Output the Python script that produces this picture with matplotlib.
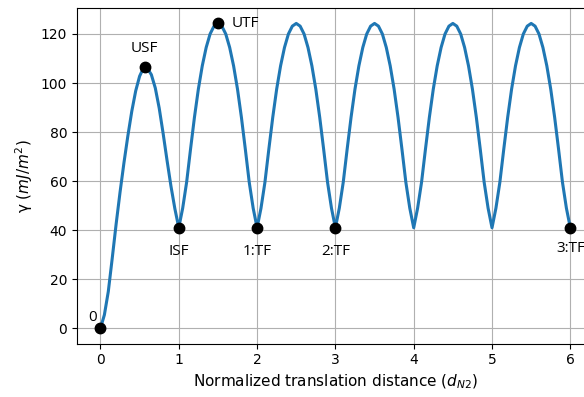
import matplotlib
matplotlib.use("Agg")
import matplotlib.pyplot as plt

# Generalized stacking/twin fault energy along the translation path
distance = [
    0.00, 0.05, 0.10, 0.15, 0.20, 0.25, 0.30, 0.35, 0.40, 0.45,
    0.50, 0.55, 0.60, 0.65, 0.70, 0.75, 0.80, 0.85, 0.90, 0.95,
    1.00, 1.05, 1.10, 1.15, 1.20, 1.25, 1.30, 1.35, 1.40, 1.45,
    1.50, 1.55, 1.60, 1.65, 1.70, 1.75, 1.80, 1.85, 1.90, 1.95,
    2.00, 2.05, 2.10, 2.15, 2.20, 2.25, 2.30, 2.35, 2.40, 2.45,
    2.50, 2.55, 2.60, 2.65, 2.70, 2.75, 2.80, 2.85, 2.90, 2.95,
    3.00, 3.05, 3.10, 3.15, 3.20, 3.25, 3.30, 3.35, 3.40, 3.45,
    3.50, 3.55, 3.60, 3.65, 3.70, 3.75, 3.80, 3.85, 3.90, 3.95,
    4.00, 4.05, 4.10, 4.15, 4.20, 4.25, 4.30, 4.35, 4.40, 4.45,
    4.50, 4.55, 4.60, 4.65, 4.70, 4.75, 4.80, 4.85, 4.90, 4.95,
    5.00, 5.05, 5.10, 5.15, 5.20, 5.25, 5.30, 5.35, 5.40, 5.45,
    5.50, 5.55, 5.60, 5.65, 5.70, 5.75, 5.80, 5.85, 5.90, 5.95,
    6.00,
]
energy = [
    0.0, 5.5, 15.0, 28.5, 42.5, 55.5, 67.5, 78.5, 88.5, 96.8,
    102.8, 106.2, 106.0, 103.4, 98.0, 89.8, 79.5, 68.5, 58.0, 48.8,
    41.0, 49.0, 59.5, 73.0, 86.0, 97.5, 107.0, 114.5, 120.0, 123.2,
    124.3, 123.2, 120.0, 114.5, 107.0, 97.5, 86.0, 73.0, 59.5, 49.0,
    41.0, 49.0, 59.5, 73.0, 86.0, 97.5, 107.0, 114.5, 120.0, 123.2,
    124.3, 123.2, 120.0, 114.5, 107.0, 97.5, 86.0, 73.0, 59.5, 49.0,
    41.0, 49.0, 59.5, 73.0, 86.0, 97.5, 107.0, 114.5, 120.0, 123.2,
    124.3, 123.2, 120.0, 114.5, 107.0, 97.5, 86.0, 73.0, 59.5, 49.0,
    41.0, 49.0, 59.5, 73.0, 86.0, 97.5, 107.0, 114.5, 120.0, 123.2,
    124.3, 123.2, 120.0, 114.5, 107.0, 97.5, 86.0, 73.0, 59.5, 49.0,
    41.0, 49.0, 59.5, 73.0, 86.0, 97.5, 107.0, 114.5, 120.0, 123.2,
    124.3, 123.2, 120.0, 114.5, 107.0, 97.5, 86.0, 73.0, 59.5, 49.0,
    41.0,
]

# Marked configurations
point_x = [0.0, 0.566, 1.0, 1.5, 2.0, 3.0, 6.0]
point_y = [0.0, 106.5, 41.0, 124.4, 41.0, 41.0, 41.0]
point_labels = ["0", "USF", "ISF", "UTF", "1:TF", "2:TF", "3:TF"]
# label offsets in points (dx, dy)
label_offsets = [(-6, 7.5), (0, 13.7), (0, -17.3), (19.4, 0), (0, -17.3), (0, -17.3), (0, -15)]

xticks = [0, 1, 2, 3, 4, 5, 6]
yticks = [0, 20, 40, 60, 80, 100, 120]

fig = plt.figure(figsize=(5.84, 3.97), dpi=100)
ax = fig.add_axes([0.1318, 0.1343, 0.885, 0.8456])

ax.plot(distance, energy, color="#1f77b4", lw=2.2, zorder=2)
ax.plot(point_x, point_y, "o", color="black", ms=7.5, zorder=3)

for x, y, lab, (dx, dy) in zip(point_x, point_y, point_labels, label_offsets):
    ax.annotate(lab, (x, y), xytext=(dx, dy), textcoords="offset points",
                ha="center", va="center", fontsize=11, family="Open Sans")

ax.set_xlim(-0.3, 6.3)
ax.set_ylim(-6.25, 130.6)
ax.set_xticks(xticks)
ax.set_yticks(yticks)
ax.grid(True, color="#b0b0b0", lw=0.8)
ax.set_axisbelow(True)
ax.tick_params(labelsize=10)

ax.set_xlabel("Normalized translation distance ($d_{N2}$)", fontsize=11)
ax.set_ylabel("γ ($mJ/m^2$)", fontsize=11)

fig.savefig("out.png", dpi=100)
